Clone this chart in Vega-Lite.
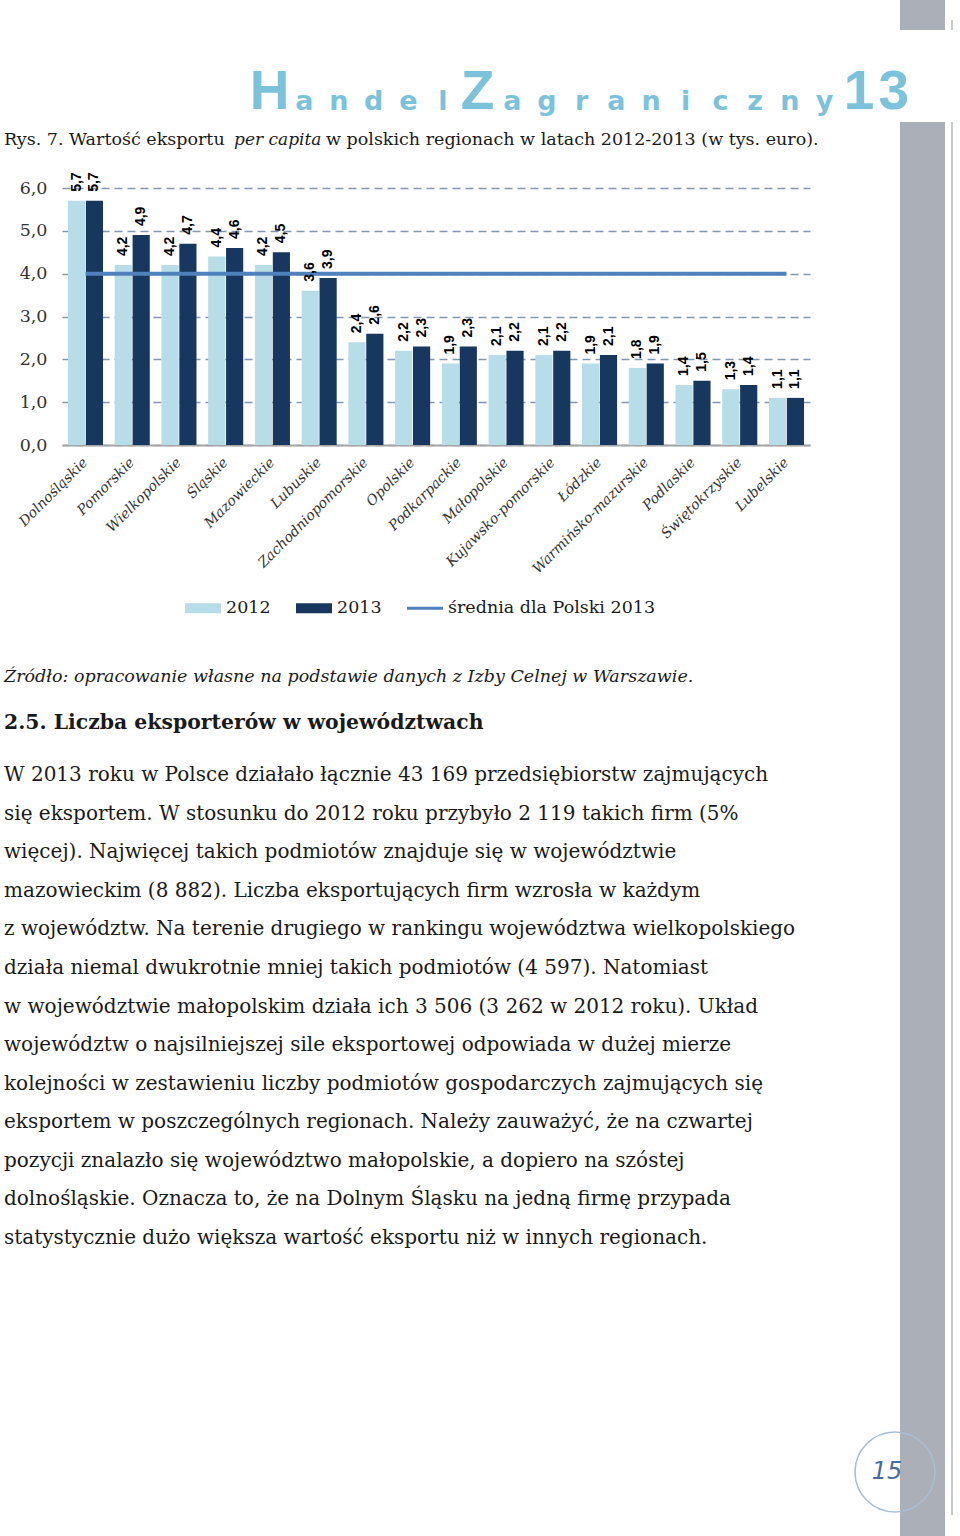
{
  "$schema": "https://vega.github.io/schema/vega-lite/v6.json",
  "width": 748,
  "height": 257,
  "autosize": {"type": "none"},
  "padding": {"left": 62, "top": 188, "right": 150, "bottom": 1091},
  "background": "white",
  "config": {
    "view": {"stroke": null},
    "locale": {"number": {"decimal": ",", "thousands": " ", "grouping": [3], "currency": ["", ""]}}
  },
  "datasets": {
    "exports": [
      {"region": "Dolnośląskie", "year": "2012", "value": 5.7},
      {"region": "Dolnośląskie", "year": "2013", "value": 5.7},
      {"region": "Pomorskie", "year": "2012", "value": 4.2},
      {"region": "Pomorskie", "year": "2013", "value": 4.9},
      {"region": "Wielkopolskie", "year": "2012", "value": 4.2},
      {"region": "Wielkopolskie", "year": "2013", "value": 4.7},
      {"region": "Śląskie", "year": "2012", "value": 4.4},
      {"region": "Śląskie", "year": "2013", "value": 4.6},
      {"region": "Mazowieckie", "year": "2012", "value": 4.2},
      {"region": "Mazowieckie", "year": "2013", "value": 4.5},
      {"region": "Lubuskie", "year": "2012", "value": 3.6},
      {"region": "Lubuskie", "year": "2013", "value": 3.9},
      {"region": "Zachodniopomorskie", "year": "2012", "value": 2.4},
      {"region": "Zachodniopomorskie", "year": "2013", "value": 2.6},
      {"region": "Opolskie", "year": "2012", "value": 2.2},
      {"region": "Opolskie", "year": "2013", "value": 2.3},
      {"region": "Podkarpackie", "year": "2012", "value": 1.9},
      {"region": "Podkarpackie", "year": "2013", "value": 2.3},
      {"region": "Małopolskie", "year": "2012", "value": 2.1},
      {"region": "Małopolskie", "year": "2013", "value": 2.2},
      {"region": "Kujawsko-pomorskie", "year": "2012", "value": 2.1},
      {"region": "Kujawsko-pomorskie", "year": "2013", "value": 2.2},
      {"region": "Łódzkie", "year": "2012", "value": 1.9},
      {"region": "Łódzkie", "year": "2013", "value": 2.1},
      {"region": "Warmińsko-mazurskie", "year": "2012", "value": 1.8},
      {"region": "Warmińsko-mazurskie", "year": "2013", "value": 1.9},
      {"region": "Podlaskie", "year": "2012", "value": 1.4},
      {"region": "Podlaskie", "year": "2013", "value": 1.5},
      {"region": "Świętokrzyskie", "year": "2012", "value": 1.3},
      {"region": "Świętokrzyskie", "year": "2013", "value": 1.4},
      {"region": "Lubelskie", "year": "2012", "value": 1.1},
      {"region": "Lubelskie", "year": "2013", "value": 1.1}
    ],
    "average": [
      {"region": "Dolnośląskie", "avg": 4.0},
      {"region": "Pomorskie", "avg": 4.0},
      {"region": "Wielkopolskie", "avg": 4.0},
      {"region": "Śląskie", "avg": 4.0},
      {"region": "Mazowieckie", "avg": 4.0},
      {"region": "Lubuskie", "avg": 4.0},
      {"region": "Zachodniopomorskie", "avg": 4.0},
      {"region": "Opolskie", "avg": 4.0},
      {"region": "Podkarpackie", "avg": 4.0},
      {"region": "Małopolskie", "avg": 4.0},
      {"region": "Kujawsko-pomorskie", "avg": 4.0},
      {"region": "Łódzkie", "avg": 4.0},
      {"region": "Warmińsko-mazurskie", "avg": 4.0},
      {"region": "Podlaskie", "avg": 4.0},
      {"region": "Świętokrzyskie", "avg": 4.0},
      {"region": "Lubelskie", "avg": 4.0}
    ],
    "header": [
      {"ch": "H", "i": 0, "kind": "big"},
      {"ch": "a", "i": 1, "kind": "small"},
      {"ch": "n", "i": 2, "kind": "small"},
      {"ch": "d", "i": 3, "kind": "small"},
      {"ch": "e", "i": 4, "kind": "small"},
      {"ch": "l", "i": 5, "kind": "small"},
      {"ch": "Z", "i": 6, "kind": "big"},
      {"ch": "a", "i": 7, "kind": "small"},
      {"ch": "g", "i": 8, "kind": "small"},
      {"ch": "r", "i": 9, "kind": "small"},
      {"ch": "a", "i": 10, "kind": "small"},
      {"ch": "n", "i": 11, "kind": "small"},
      {"ch": "i", "i": 12, "kind": "small"},
      {"ch": "c", "i": 13, "kind": "small"},
      {"ch": "z", "i": 14, "kind": "small"},
      {"ch": "n", "i": 15, "kind": "small"},
      {"ch": "y", "i": 16, "kind": "small"},
      {"ch": "1", "i": 17, "kind": "big"},
      {"ch": "3", "i": 18, "kind": "big"}
    ],
    "paragraph": [
      {"line": 0, "text": "W 2013 roku w Polsce działało łącznie 43 169 przedsiębiorstw zajmujących"},
      {"line": 1, "text": "się eksportem. W stosunku do 2012 roku przybyło 2 119 takich firm (5%"},
      {"line": 2, "text": "więcej). Najwięcej takich podmiotów znajduje się w województwie"},
      {"line": 3, "text": "mazowieckim (8 882). Liczba eksportujących firm wzrosła w każdym"},
      {"line": 4, "text": "z województw. Na terenie drugiego w rankingu województwa wielkopolskiego"},
      {"line": 5, "text": "działa niemal dwukrotnie mniej takich podmiotów (4 597). Natomiast"},
      {"line": 6, "text": "w województwie małopolskim działa ich 3 506 (3 262 w 2012 roku). Układ"},
      {"line": 7, "text": "województw o najsilniejszej sile eksportowej odpowiada w dużej mierze"},
      {"line": 8, "text": "kolejności w zestawieniu liczby podmiotów gospodarczych zajmujących się"},
      {"line": 9, "text": "eksportem w poszczególnych regionach. Należy zauważyć, że na czwartej"},
      {"line": 10, "text": "pozycji znalazło się województwo małopolskie, a dopiero na szóstej"},
      {"line": 11, "text": "dolnośląskie. Oznacza to, że na Dolnym Śląsku na jedną firmę przypada"},
      {"line": 12, "text": "statystycznie dużo większa wartość eksportu niż w innych regionach."}
    ]
  },
  "resolve": {"scale": {"x": "independent", "y": "independent", "size": "independent"}},
  "layer": [
    {
      "data": {"values": [{}]},
      "mark": {"type": "rect", "color": "#abb0b8"},
      "encoding": {"x": {"value": 838}, "x2": {"value": 883}, "y": {"value": -66}, "y2": {"value": 1348}}
    },
    {
      "data": {"values": [{}]},
      "mark": {"type": "rect", "color": "#abb0b8"},
      "encoding": {"x": {"value": 838}, "x2": {"value": 883}, "y": {"value": -188}, "y2": {"value": -158}}
    },
    {
      "data": {"values": [{}]},
      "mark": {"type": "rule", "color": "#b5b9bf", "strokeWidth": 1.5},
      "encoding": {"x": {"value": 890}, "y": {"value": -66}, "y2": {"value": 1327}}
    },
    {
      "data": {"values": [{}]},
      "mark": {"type": "rule", "color": "#b5b9bf", "strokeWidth": 1.5},
      "encoding": {"x": {"value": 890}, "y": {"value": -168}, "y2": {"value": -158}}
    },
    {
      "layer": [
        {
          "data": {"name": "exports"},
          "mark": {"type": "bar"},
          "encoding": {
            "x": {
              "field": "region", "type": "nominal", "sort": null,
              "scale": {"paddingInner": 0.25, "paddingOuter": 0.128},
              "axis": {
                "title": null, "labelAngle": -45, "labelAlign": "right", "labelBaseline": "middle",
                "labelFont": "DejaVu Serif", "labelFontStyle": "italic", "labelFontSize": 14,
                "labelColor": "#333333", "ticks": false, "domainColor": "#a6a6a6", "domainWidth": 2,
                "labelPadding": 15, "labelOverlap": false, "labelBound": false, "labelFlush": false, "labelLimit": 300
              }
            },
            "xOffset": {"field": "year", "type": "nominal", "scale": {"paddingInner": 0.04}},
            "y": {
              "field": "value", "type": "quantitative",
              "scale": {"domain": [0, 6], "nice": false},
              "axis": {
                "title": null, "values": [0, 1, 2, 3, 4, 5, 6], "format": ".1f",
                "labelFont": "DejaVu Serif", "labelFontSize": 17.5, "labelColor": "#333333",
                "labelPadding": 15, "ticks": false, "domain": false,
                "gridDash": [8, 5], "gridColor": "#8497b0", "gridWidth": 1.3
              }
            },
            "color": {
              "field": "year", "type": "nominal",
              "scale": {"domain": ["2012", "2013", "średnia dla Polski 2013"], "range": ["#b7dde8", "#17375e", "#4f81bd"]},
              "legend": {
                "orient": "none", "legendX": 123, "legendY": 402, "direction": "horizontal", "title": null,
                "symbolType": "M-1,-0.28H1V0.28H-1Z", "symbolSize": 1296,
                "labelFont": "DejaVu Serif", "labelFontSize": 17.5, "labelColor": "#1a1a1a",
                "labelOffset": 5, "columnPadding": 25, "symbolStrokeWidth": 0, "labelLimit": 400,
                "encode": {
                  "symbols": {
                    "update": {
                      "shape": {"signal": "datum.value === 'średnia dla Polski 2013' ? 'M-1,-0.09H1V0.09H-1Z' : 'M-1,-0.28H1V0.28H-1Z'"},
                      "fill": {"scale": "color", "field": "value"},
                      "opacity": {"value": 1}
                    }
                  }
                }
              }
            }
          }
        },
        {
          "data": {"name": "average"},
          "mark": {"type": "line", "strokeWidth": 4},
          "encoding": {
            "x": {"field": "region", "type": "nominal", "sort": null},
            "y": {"field": "avg", "type": "quantitative"},
            "color": {"datum": "średnia dla Polski 2013"}
          }
        },
        {
          "data": {"name": "exports"},
          "mark": {"type": "text", "angle": 270, "align": "left", "baseline": "middle", "dx": 9, "font": "Liberation Sans", "fontWeight": "bold", "fontSize": 14, "color": "#000000"},
          "encoding": {
            "x": {"field": "region", "type": "nominal", "sort": null},
            "xOffset": {"field": "year", "type": "nominal"},
            "y": {"field": "value", "type": "quantitative"},
            "text": {"field": "value", "type": "quantitative", "format": ".1f"}
          }
        }
      ]
    },
    {
      "data": {"name": "header"},
      "transform": [{"filter": "datum.kind === 'big'"}],
      "mark": {"type": "text", "align": "center", "baseline": "alphabetic", "font": "Liberation Sans", "fontWeight": "bold", "fontSize": 55, "color": "#7cc2db"},
      "encoding": {
        "x": {"field": "i", "type": "quantitative", "scale": {"domain": [0, 18], "range": [207.6, 831.8]}, "axis": null},
        "y": {"value": -79},
        "text": {"field": "ch"}
      }
    },
    {
      "data": {"name": "header"},
      "transform": [{"filter": "datum.kind === 'small'"}],
      "mark": {"type": "text", "align": "center", "baseline": "alphabetic", "font": "DejaVu Sans", "fontWeight": "bold", "fontSize": 27, "color": "#7cc2db"},
      "encoding": {
        "x": {"field": "i", "type": "quantitative", "scale": {"domain": [0, 18], "range": [207.6, 831.8]}, "axis": null},
        "y": {"value": -78},
        "text": {"field": "ch"}
      }
    },
    {
      "data": {"values": [{"t": "Rys. 7. Wartość eksportu"}]},
      "mark": {"type": "text", "align": "left", "baseline": "middle", "font": "DejaVu Serif", "fontSize": 17.5, "color": "#1a1a1a"},
      "encoding": {"x": {"value": -58}, "y": {"value": -48}, "text": {"field": "t"}}
    },
    {
      "data": {"values": [{"t": "per capita"}]},
      "mark": {"type": "text", "align": "left", "baseline": "middle", "font": "DejaVu Serif", "fontStyle": "italic", "fontSize": 17, "color": "#1a1a1a"},
      "encoding": {"x": {"value": 172}, "y": {"value": -48}, "text": {"field": "t"}}
    },
    {
      "data": {"values": [{"t": "w polskich regionach w latach 2012-2013 (w tys. euro)."}]},
      "mark": {"type": "text", "align": "left", "baseline": "middle", "font": "DejaVu Serif", "fontSize": 17.5, "color": "#1a1a1a"},
      "encoding": {"x": {"value": 264}, "y": {"value": -48}, "text": {"field": "t"}}
    },
    {
      "data": {"values": [{"t": "Źródło: opracowanie własne na podstawie danych z Izby Celnej w Warszawie."}]},
      "mark": {"type": "text", "align": "left", "baseline": "middle", "font": "DejaVu Serif", "fontStyle": "italic", "fontSize": 17.5, "color": "#1a1a1a"},
      "encoding": {"x": {"value": -58}, "y": {"value": 489}, "text": {"field": "t"}}
    },
    {
      "data": {"values": [{"t": "2.5. Liczba eksporterów w województwach"}]},
      "mark": {"type": "text", "align": "left", "baseline": "middle", "font": "DejaVu Serif", "fontWeight": "bold", "fontSize": 20.4, "color": "#1a1a1a"},
      "encoding": {"x": {"value": -58}, "y": {"value": 535}, "text": {"field": "t"}}
    },
    {
      "data": {"name": "paragraph"},
      "mark": {"type": "text", "align": "left", "baseline": "middle", "font": "DejaVu Serif", "fontSize": 20, "color": "#1a1a1a"},
      "encoding": {
        "x": {"value": -58},
        "y": {"field": "line", "type": "quantitative", "scale": {"domain": [0, 12], "range": [587, 1050]}, "axis": null},
        "text": {"field": "text"}
      }
    },
    {
      "data": {"values": [{}]},
      "mark": {"type": "point", "shape": "circle", "filled": false, "size": 6400, "stroke": "#a9bdd2", "strokeWidth": 1.5, "opacity": 1},
      "encoding": {"x": {"value": 833}, "y": {"value": 1284}}
    },
    {
      "data": {"values": [{"t": "15"}]},
      "mark": {"type": "text", "align": "center", "baseline": "middle", "font": "DejaVu Sans", "fontStyle": "italic", "fontSize": 24, "color": "#4a6c99"},
      "encoding": {"x": {"value": 825}, "y": {"value": 1284}, "text": {"field": "t"}}
    }
  ]
}
